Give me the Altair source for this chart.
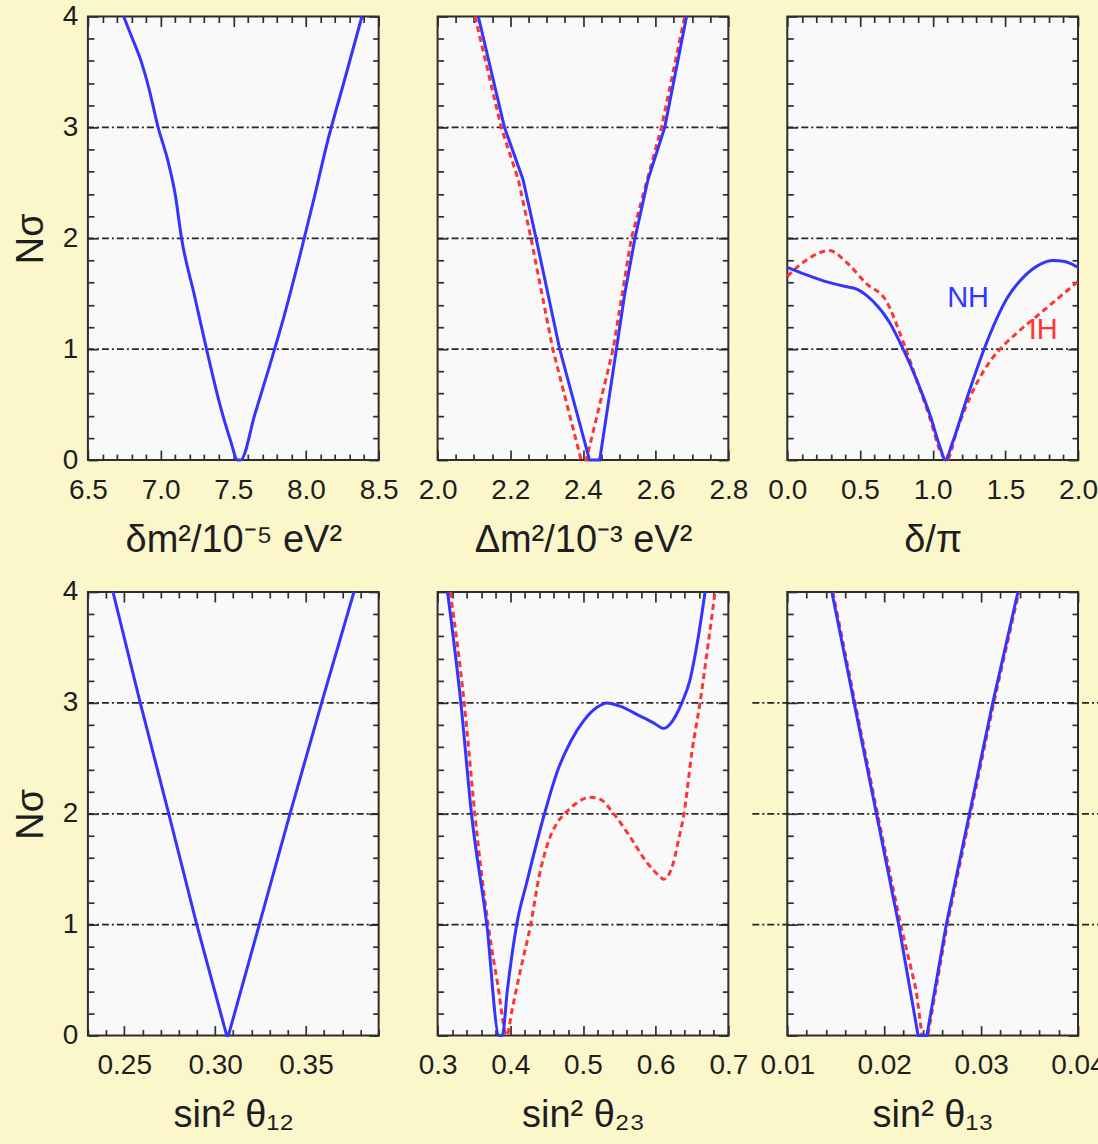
import altair as alt
import pandas as pd

# ---------------- data ----------------
# top-left: delta m^2 / 1e-5 eV^2
dm2_nh_x = [6.746, 6.80, 6.86, 6.92, 6.983, 7.05, 7.10, 7.144, 7.23, 7.316, 7.408, 7.48, 7.53,
            7.55, 7.65, 7.75, 7.85, 7.95, 8.05, 8.15, 8.27, 8.385]
dm2_nh_y = [4.0, 3.82, 3.62, 3.35, 3.0, 2.7, 2.4, 2.0, 1.5, 1.0, 0.5, 0.18, 0.0,
            0.0, 0.42, 0.85, 1.3, 1.8, 2.33, 2.88, 3.45, 4.0]

# top-middle: Delta m^2 / 1e-3 eV^2
Dm2_nh_x = [2.112, 2.184, 2.235, 2.271, 2.336, 2.40, 2.418, 2.446, 2.469, 2.492, 2.515,
            2.543, 2.579, 2.625, 2.685]
Dm2_nh_y = [4.0, 3.0, 2.53, 2.0, 1.0, 0.22, 0.0, 0.0, 0.5, 1.0, 1.5,
            2.0, 2.53, 3.0, 4.0]
Dm2_ih_x = [2.103, 2.175, 2.222, 2.257, 2.317, 2.395, 2.409, 2.483, 2.533, 2.616, 2.680]
Dm2_ih_y = [4.0, 3.0, 2.53, 2.0, 1.0, 0.0, 0.0, 1.0, 2.0, 3.0, 4.0]

# top-right: delta / pi
dcp_nh_x = [0.0, 0.127, 0.266, 0.40, 0.474, 0.59, 0.705, 0.798, 0.89, 0.983, 1.052, 1.087,
            1.133, 1.237, 1.353, 1.514, 1.63, 1.746, 1.827, 1.908, 2.0]
dcp_nh_y = [1.738, 1.673, 1.609, 1.565, 1.545, 1.432, 1.239, 0.998, 0.724, 0.402, 0.113, 0.0,
            0.145, 0.563, 0.998, 1.464, 1.657, 1.77, 1.80, 1.79, 1.738]
dcp_ih_x = [0.0, 0.127, 0.289, 0.405, 0.543, 0.682, 0.798, 0.89, 0.983, 1.052, 1.098,
            1.168, 1.283, 1.40, 1.50, 1.60, 1.70, 1.80, 1.90, 2.0]
dcp_ih_y = [1.657, 1.80, 1.889, 1.786, 1.593, 1.432, 1.062, 0.724, 0.37, 0.08, 0.0,
            0.274, 0.64, 0.90, 1.05, 1.17, 1.28, 1.39, 1.50, 1.61]

# bottom-left: sin^2 theta12
s12_nh_x = [0.2438, 0.2588, 0.2745, 0.2899, 0.3064, 0.3073, 0.3243, 0.3412, 0.3586, 0.3764]
s12_nh_y = [4.0, 3.0, 2.0, 1.0, 0.0, 0.0, 1.0, 2.0, 3.0, 4.0]

# bottom-middle: sin^2 theta23
s23_nh_x = [0.3137, 0.332, 0.3466, 0.3677, 0.3846, 0.389, 0.396, 0.4088, 0.4234, 0.447,
            0.4646, 0.4829, 0.5011, 0.5194, 0.533, 0.551, 0.5789, 0.597, 0.611, 0.62,
            0.636, 0.647, 0.657, 0.668]
s23_nh_y = [4.0, 3.0, 2.0, 1.0, 0.0, 0.0, 0.41, 1.0, 1.4, 2.0,
            2.38, 2.65, 2.84, 2.96, 3.0, 2.97, 2.88, 2.82, 2.77, 2.81,
            3.0, 3.2, 3.53, 4.0]
s23_ih_x = [0.3174, 0.3366, 0.3512, 0.3695, 0.383, 0.395, 0.403, 0.415, 0.428, 0.4395,
            0.453, 0.4646, 0.478, 0.492, 0.5097, 0.524, 0.5423, 0.565, 0.588, 0.605,
            0.611, 0.617, 0.624, 0.632, 0.639, 0.6497, 0.661, 0.6726, 0.6817]
s23_ih_y = [4.0, 3.0, 2.0, 1.0, 0.45, 0.0, 0.25, 0.62, 1.0, 1.43,
            1.76, 1.92, 2.02, 2.10, 2.15, 2.13, 2.0, 1.79, 1.56, 1.44,
            1.41, 1.44, 1.55, 1.78, 2.0, 2.55, 3.0, 3.55, 4.0]

# bottom-right: sin^2 theta13
s13_nh_x = [0.0146, 0.0169, 0.0192, 0.0215, 0.0235, 0.0244, 0.0264, 0.0288, 0.0312, 0.0338]
s13_nh_y = [4.0, 3.0, 2.0, 1.0, 0.0, 0.0, 1.0, 2.0, 3.0, 4.0]
s13_ih_x = [0.0147, 0.0170, 0.0193, 0.0217, 0.0233, 0.0239, 0.0245, 0.0265, 0.0289, 0.0313, 0.0339]
s13_ih_y = [4.0, 3.0, 2.0, 1.0, 0.41, 0.0, 0.0, 1.0, 2.0, 3.0, 4.0]

# reference levels (dash-dot lines)
sigma_levels = [1, 2, 3]
y_major = [0, 1, 2, 3, 4]

# curve labels in the delta panel
hier_labels = ["NH", "IH"]
hier_label_x = [1.244, 1.76]
hier_label_y = [1.46, 1.17]

# ---------------- style ----------------
BLUE = "#3434ff"
RED = "#ff3434"
FRAME = "#2e2e2e"
BG = "#fbf7ca"
PLOTBG = "#f9f9f9"
FONT = "Liberation Sans"
W, H = 291, 444
MAJ, MIN = 10, 6


def ticks(lo, hi, step):
    n = int(round((hi - lo) / step))
    return [round(lo + i * step, 6) for i in range(n + 1)]


def minor_of(lo, hi, step, major):
    return [v for v in ticks(lo, hi, step) if all(abs(v - m) > step / 10 for m in major)]


def axis(orient, values, size, fmt=None, labels=False, title=None, show_title=False):
    kw = dict(orient=orient, values=values, tickSize=size, offset=-size, domain=False,
              grid=False, tickColor=FRAME, tickWidth=1.7, labels=labels)
    if labels:
        kw.update(format=fmt, labelFontSize=28, labelFont=FONT, labelColor="#1e1e1e",
                  labelFlush=False, labelOverlap=False)
        if orient in ("bottom", "top"):
            kw.update(labelPadding=16)
        else:
            kw.update(labelPadding=10)
    if show_title:
        kw.update(title=title, titleFontSize=38, titleFont=FONT, titleColor="#1e1e1e",
                  titleFontWeight="normal")
        kw.update(titlePadding=17 if orient in ("bottom", "top") else 12)
    else:
        kw.update(title=None)
    return alt.Axis(**kw)


def panel(nh_x, nh_y, ih_x, ih_y, domain, major, minor, fmt, xtitle, first_col,
          with_labels=False, extend_grid=False, interp="linear"):
    xs = alt.Scale(domain=domain, nice=False, zero=False)
    ys = alt.Scale(domain=[0, 4], nice=False, zero=False)
    y_minor = minor_of(0, 4, 0.2, y_major)

    nh = pd.DataFrame({"x": nh_x, "y": nh_y})
    lev = pd.DataFrame({"level": sigma_levels})

    rule = alt.Chart(lev).mark_rule(strokeDash=[7, 3, 2, 3], color="#262626", strokeWidth=1.7)
    if extend_grid:
        grid = rule.encode(y=alt.Y("level:Q", scale=ys, axis=None),
                           x=alt.value(-35), x2=alt.value(W + 60))
    else:
        grid = rule.encode(y=alt.Y("level:Q", scale=ys, axis=None))

    base = alt.Chart(nh)
    nh_line = base.mark_line(color=BLUE, strokeWidth=3, interpolate=interp).encode(
        x=alt.X("x:Q", scale=xs,
                axis=axis("bottom", major, MAJ, fmt, labels=True, title=xtitle, show_title=True)),
        y=alt.Y("y:Q", scale=ys,
                axis=axis("left", y_major, MAJ, "d", labels=first_col, title="Nσ",
                          show_title=first_col)),
        order=alt.Order("x:Q"))
    a2 = base.mark_line(opacity=0).encode(
        x=alt.X("x:Q", scale=xs, axis=axis("bottom", minor, MIN)),
        y=alt.Y("y:Q", scale=ys, axis=axis("left", y_minor, MIN)))
    a3 = base.mark_line(opacity=0).encode(
        x=alt.X("x:Q", scale=xs, axis=axis("top", major, MAJ)),
        y=alt.Y("y:Q", scale=ys, axis=axis("right", y_major, MAJ)))
    a4 = base.mark_line(opacity=0).encode(
        x=alt.X("x:Q", scale=xs, axis=axis("top", minor, MIN)),
        y=alt.Y("y:Q", scale=ys, axis=axis("right", y_minor, MIN)))

    layers = [grid, a2, a3, a4]
    if ih_x is not None:
        ih = pd.DataFrame({"x": ih_x, "y": ih_y})
        layers.append(alt.Chart(ih).mark_line(color=RED, strokeWidth=3, strokeDash=[6, 4],
                                              interpolate=interp).encode(
            x=alt.X("x:Q", scale=xs, axis=None),
            y=alt.Y("y:Q", scale=ys, axis=None),
            order=alt.Order("x:Q")))
    layers.append(nh_line)
    if with_labels:
        lab = pd.DataFrame({"t": hier_labels, "x": hier_label_x, "y": hier_label_y,
                            "c": [BLUE, RED]})
        layers.append(alt.Chart(lab).mark_text(fontSize=29, font=FONT, align="center",
                                                baseline="middle").encode(
            x=alt.X("x:Q", scale=xs, axis=None),
            y=alt.Y("y:Q", scale=ys, axis=None),
            text="t:N",
            color=alt.Color("c:N", scale=None)))

    return alt.layer(*layers).resolve_axis(x="independent", y="independent").properties(
        width=W, height=H)


p1 = panel(dm2_nh_x, dm2_nh_y, None, None, [6.5, 8.5], ticks(6.5, 8.5, 0.5),
           minor_of(6.5, 8.5, 0.1, ticks(6.5, 8.5, 0.5)), ".1f", "δm²/10⁻⁵ eV²", True,
           interp="monotone")
p2 = panel(Dm2_nh_x, Dm2_nh_y, Dm2_ih_x, Dm2_ih_y, [2.0, 2.8], ticks(2.0, 2.8, 0.2),
           minor_of(2.0, 2.8, 0.05, ticks(2.0, 2.8, 0.2)), ".1f", "Δm²/10⁻³ eV²", False)
p3 = panel(dcp_nh_x, dcp_nh_y, dcp_ih_x, dcp_ih_y, [0.0, 2.0], ticks(0.0, 2.0, 0.5),
           minor_of(0.0, 2.0, 0.1, ticks(0.0, 2.0, 0.5)), ".1f", "δ/π", False,
           with_labels=True, interp="monotone")
p4 = panel(s12_nh_x, s12_nh_y, None, None, [0.23, 0.39], [0.25, 0.30, 0.35],
           minor_of(0.23, 0.39, 0.01, [0.25, 0.30, 0.35]), ".2f", "sin² θ₁₂", True)
p5 = panel(s23_nh_x, s23_nh_y, s23_ih_x, s23_ih_y, [0.3, 0.7], ticks(0.3, 0.7, 0.1),
           minor_of(0.3, 0.7, 0.02, ticks(0.3, 0.7, 0.1)), ".1f", "sin² θ₂₃", False,
           interp="monotone")
p6 = panel(s13_nh_x, s13_nh_y, s13_ih_x, s13_ih_y, [0.01, 0.04], ticks(0.01, 0.04, 0.01),
           minor_of(0.01, 0.04, 0.002, ticks(0.01, 0.04, 0.01)), ".2f", "sin² θ₁₃", False,
           extend_grid=True)

chart = alt.concat(p1, p2, p3, p4, p5, p6, columns=3, bounds="flush",
                   spacing=alt.RowColnumber(row=132, column=59)).properties(
    background=BG, padding={"left": 11, "top": 1, "right": -42, "bottom": 10}
).configure_view(stroke=FRAME, strokeWidth=2, fill=PLOTBG)

chart.save("out.html", embed_options={"renderer": "svg", "actions": False})
